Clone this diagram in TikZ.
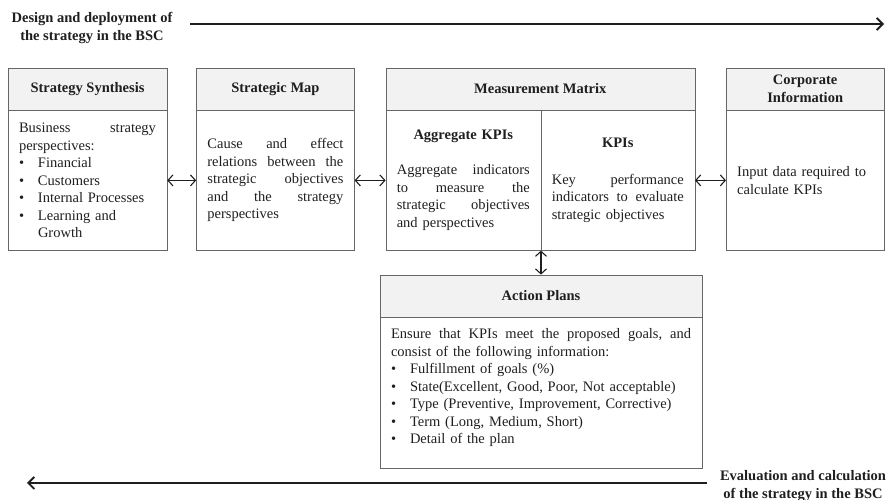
\documentclass[tikz,border=0pt]{standalone}
\usepackage{fontspec}
\setmainfont{Liberation Serif}
\usepackage{tikz}
\usetikzlibrary{arrows.meta,positioning}
\definecolor{bscLine}{HTML}{666666}
\definecolor{bscHead}{HTML}{F2F2F2}
\definecolor{bscText}{HTML}{1F1F1F}
\newcommand{\bscfont}{\fontsize{14.5pt}{17.5pt}\selectfont}
\newcommand{\bul}{\makebox[19pt][l]{\textbullet}}
\tikzset{
  hdr/.style={draw=bscLine, fill=bscHead, font=\bscfont\bfseries, text=bscText, minimum width=#1, minimum height=42pt, inner sep=0pt, align=center},
  panel/.style={draw=bscLine, font=\bscfont, text=bscText, text width=#1, inner xsep=11pt, inner ysep=0pt, minimum height=140pt, align=left},
  arrlink/.style={{Straight Barb[length=5pt,width=11pt]}-{Straight Barb[length=5pt,width=11pt]}, line width=1.1pt, draw=bscText},
  arrphase/.style={-{Straight Barb[length=6pt,width=12pt]}, line width=1.8pt, draw=bscText},
  phase/.style={font=\bscfont\bfseries, text=bscText, align=center},
}

\begin{document}
\begin{tikzpicture}[x=1pt,y=1pt]
\useasboundingbox (0,0) rectangle (891,500);
% Fase de diseno
\node[phase] (design) at (92,472) {Design and deployment of\\the strategy in the BSC};
\coordinate (designStart) at (190,476);
\coordinate (designEnd) at (884,476);
\draw[arrphase] (designStart) -- (designEnd);

% Strategy Synthesis
\node[hdr=159pt] (ssh) at (87.5,411) {Strategy Synthesis};
\node[panel=137pt, below=0pt of ssh] (ssb) {Business \hfill strategy\\
  perspectives:\\
  \bul Financial\\
  \bul Customers\\
  \bul Internal Processes\\
  \bul Learning and\\
  \hspace*{19pt}Growth};

% Strategic Map
\node[hdr=158pt, right=29pt of ssh] (smh) {Strategic Map};
\node[panel=136pt, below=0pt of smh] (smb) {Cause \hfill and \hfill effect\\
  relations \hfill between \hfill the\\
  strategic \hfill objectives\\
  and \hfill the \hfill strategy\\
  perspectives};

% Measurement Matrix
\node[hdr=309pt, right=31pt of smh] (mmh) {Measurement Matrix};
\node[panel=133pt, anchor=north west] (mmL) at (mmh.south west) {{\centering\textbf{Aggregate KPIs}\par}\vspace{17.5pt}
  Aggregate \hfill indicators\\
  to \hfill measure \hfill the\\
  strategic \hfill objectives\\
  and perspectives};
\node[panel=132pt, anchor=north east] (mmR) at (mmh.south east) {{\centering\textbf{KPIs}\par}\vspace{19pt}
  Key \hfill performance\\
  indicators \hfill to \hfill evaluate\\
  strategic objectives};

% Corporate Information
\node[hdr=158pt, right=31pt of mmh] (cih) {Corporate\\Information};
\node[panel=136pt, below=0pt of cih] (cib) {Input data required to\\
  calculate KPIs};

% Action Plans
\node[hdr=322pt, below=24pt of mmL.south east] (aph) {Action Plans};
\node[panel=300pt, minimum height=151pt, below=0pt of aph] (apb) {Ensure \hfill that \hfill KPIs \hfill meet \hfill the \hfill proposed \hfill goals, \hfill and\\
  consist of the following information:\\
  \bul Fulfillment of goals (\%)\\
  \bul State(Excellent, Good, Poor, Not acceptable)\\
  \bul Type (Preventive, Improvement, Corrective)\\
  \bul Term (Long, Medium, Short)\\
  \bul Detail of the plan\par\vspace{10pt}};

% Enlaces
\draw[arrlink] (ssb) -- (smb);
\draw[arrlink] (smb) -- (mmL);
\draw[arrlink] (mmR) -- (cib);
\draw[arrlink] (mmL.south east) -- (aph.north);

% Fase de evaluacion
\node[phase] (eval) at (803,14) {Evaluation and calculation\\of the strategy in the BSC};
\coordinate (evalStart) at (707,17);
\coordinate (evalEnd) at (27,17);
\draw[arrphase] (evalStart) -- (evalEnd);
\end{tikzpicture}
\end{document}
